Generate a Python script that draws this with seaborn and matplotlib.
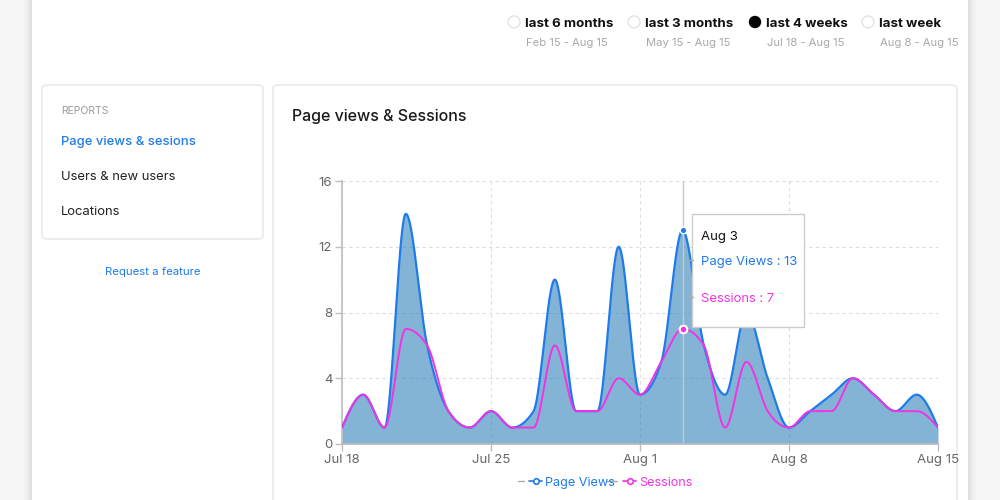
import numpy as np
import pandas as pd
import matplotlib
matplotlib.use("Agg")
import matplotlib.pyplot as plt
import matplotlib.patches as mpatches
import matplotlib.lines as mlines
import seaborn as sns

# ---------------- data ----------------
page_views = [1, 3, 1, 14, 6, 2, 1, 2, 1, 2, 10, 2, 2, 12, 3, 5, 13, 6, 3, 8, 4, 1, 2, 3, 4, 3, 2, 3, 1]
sessions = [1, 3, 1, 7, 6, 2, 1, 2, 1, 1, 6, 2, 2, 4, 3, 5, 7, 6, 1, 5, 2, 1, 2, 2, 4, 3, 2, 2, 1]
tick_days = [0, 7, 14, 21, 28]
tick_labels = ["Jul 18", "Jul 25", "Aug 1", "Aug 8", "Aug 15"]
y_ticks = [0, 4, 8, 12, 16]
active_index = 16  # Aug 3
active_label = "Aug 3"
ranges = ["last 6 months", "last 3 months", "last 4 weeks", "last week"]
range_dates = ["Feb 15 - Aug 15", "May 15 - Aug 15", "Jul 18 - Aug 15", "Aug 8 - Aug 15"]
selected_range = 2
menu_items = ["Page views & sesions", "Users & new users", "Locations"]

BLUE = "#1f7bea"
MAGENTA = "#f233e3"
FILL = "#1f77b4"
DY = 2  # text baseline correction in px


def monotone_curve(y, m=40):
    """d3 curveMonotoneX through integer-spaced points."""
    y = np.asarray(y, float)
    x = np.arange(len(y), dtype=float)
    n = len(y)
    h = np.diff(x)
    s = np.diff(y) / h
    t = np.zeros(n)
    for i in range(1, n - 1):
        s0, s1, h0, h1 = s[i - 1], s[i], h[i - 1], h[i]
        p = (s0 * h1 + s1 * h0) / (h0 + h1)
        t[i] = (np.sign(s0) + np.sign(s1)) * min(abs(s0), abs(s1), 0.5 * abs(p))
    t[0] = (3 * s[0] - t[1]) / 2
    t[-1] = (3 * s[-1] - t[-2]) / 2
    xs, ys = [], []
    for i in range(n - 1):
        u = np.linspace(0, 1, m, endpoint=(i == n - 2))
        h00 = 2 * u**3 - 3 * u**2 + 1
        h10 = u**3 - 2 * u**2 + u
        h01 = -2 * u**3 + 3 * u**2
        h11 = u**3 - u**2
        xs.append(x[i] + u * h[i])
        ys.append(h00 * y[i] + h10 * h[i] * t[i] + h01 * y[i + 1] + h11 * h[i] * t[i + 1])
    return np.concatenate(xs), np.concatenate(ys)


sns.set_theme(style="white")
plt.rcParams["font.family"] = ["Inter", "DejaVu Sans"]

fig = plt.figure(figsize=(10, 5), dpi=100)
fig.patch.set_facecolor("#f7f7f7")


def fx(x):
    return x / 1000.0


def fy(y):
    return 1 - y / 500.0


def ty(y):
    return fy(y + DY)


# page shadow + white card
for k, a in enumerate([0.015, 0.02, 0.025, 0.03]):
    off = 8 - 2 * k
    fig.add_artist(mpatches.Rectangle((fx(32 - off), 0), fx(936 + 2 * off), 1, transform=fig.transFigure,
                                      facecolor="#000000", alpha=a, edgecolor="none", zorder=0))
fig.add_artist(mpatches.Rectangle((fx(32), 0), fx(936), 1, transform=fig.transFigure,
                                  facecolor="white", edgecolor="none", zorder=0.5))

# left menu card
fig.add_artist(mpatches.FancyBboxPatch((fx(42), fy(239)), fx(221), 154 / 500, transform=fig.transFigure,
                                       boxstyle="round,pad=0,rounding_size=0.006", facecolor="white",
                                       edgecolor="#e6e6e6", lw=1, zorder=1))
fig.text(fx(61), ty(109), "REPORTS", fontsize=7.5, color="#9a9a9a", va="center", ha="left", zorder=2)
for i, item in enumerate(menu_items):
    fig.text(fx(61), ty(140 + 35 * i), item, fontsize=9.4, color=BLUE if i == 0 else "#222222",
             va="center", ha="left", zorder=2, fontweight="medium" if i == 0 else "normal")
fig.text(fx(153), ty(270), "Request a feature", fontsize=8.2, color=BLUE, va="center", ha="center", zorder=2)

# chart card
fig.add_artist(mpatches.FancyBboxPatch((fx(273), fy(510)), fx(684), 425 / 500, transform=fig.transFigure,
                                       boxstyle="round,pad=0,rounding_size=0.006", facecolor="white",
                                       edgecolor="#e6e6e6", lw=1, zorder=1))
fig.text(fx(292), ty(115), "Page views & Sessions", fontsize=11.5, color="#1a1a1a", va="center",
         ha="left", zorder=2, fontweight="medium")

# range selector
circle_x = [514, 634, 755, 868]
for i, (lab, dr) in enumerate(zip(ranges, range_dates)):
    cx = circle_x[i]
    if i == selected_range:
        fig.add_artist(mpatches.Ellipse((fx(cx), fy(22)), fx(11), 11 / 500, transform=fig.transFigure,
                                        facecolor="black", edgecolor="black", zorder=2))
    else:
        fig.add_artist(mpatches.Ellipse((fx(cx), fy(22)), fx(12), 12 / 500, transform=fig.transFigure,
                                        facecolor="white", edgecolor="#e3e3e3", lw=1, zorder=2))
    fig.text(fx(cx + 11), ty(22), lab, fontsize=9.6, fontweight="bold", color="#111111",
             va="center", ha="left", zorder=2)
    fig.text(fx(cx + 12), ty(41), dr, fontsize=8.1, color="#a8a8a8", va="center", ha="left", zorder=2)

# ---------------- chart ----------------
ax = fig.add_axes([fx(342), fy(444), fx(938 - 342), (444 - 181) / 500])
ax.set_facecolor("none")
ax.set_zorder(3)

xd, pv_d = monotone_curve(page_views)
_, s_d = monotone_curve(sessions)

ax.fill_between(xd, 0, pv_d, color=FILL, alpha=0.55, lw=0, zorder=1)
ax.axvline(active_index, color="#c8c8c8", lw=1, zorder=1.5)
sns.lineplot(x=xd, y=pv_d, ax=ax, color=BLUE, lw=1.6, zorder=3, estimator=None, sort=False)
sns.lineplot(x=xd, y=s_d, ax=ax, color=MAGENTA, lw=1.4, zorder=4, estimator=None, sort=False)

ax.scatter([active_index], [page_views[active_index]], s=22, color=BLUE, edgecolor="white", lw=1, zorder=6)
ax.scatter([active_index], [sessions[active_index]], s=30, color=MAGENTA, edgecolor="white", lw=1.5, zorder=6)

ax.set_xlim(0, len(page_views) - 1)
ax.set_ylim(0, 16)
ax.set_xticks(tick_days)
ax.set_xticklabels(tick_labels)
ax.set_yticks(y_ticks)
ax.set_yticklabels([str(v) for v in y_ticks])
ax.grid(True, color="#dddddd", lw=0.8, linestyle=(0, (3, 3)))
ax.set_axisbelow(True)
for side in ["top", "right"]:
    ax.spines[side].set_visible(False)
for side in ["left", "bottom"]:
    ax.spines[side].set_color("#bdbdbd")
    ax.spines[side].set_linewidth(1.2)
ax.tick_params(axis="both", which="both", length=5, width=1, color="#bdbdbd", labelcolor="#666666",
               labelsize=9.5, pad=2, left=True, bottom=True)

# tooltip
tip = mpatches.Rectangle((fx(692), fy(327)), fx(112), (327 - 214) / 500, transform=fig.transFigure,
                         facecolor="white", edgecolor="#cccccc", lw=1, zorder=10)
fig.add_artist(tip)
for yy in [260, 297]:
    fig.add_artist(mlines.Line2D([fx(687), fx(693)], [fy(yy), fy(yy)], transform=fig.transFigure,
                                 color="#aaaaaa", lw=1, zorder=11))
fig.text(fx(701), ty(235), active_label, fontsize=9.5, color="#111111", va="center", ha="left", zorder=11)
fig.text(fx(701), ty(260), f"Page Views : {page_views[active_index]}", fontsize=9.4, color=BLUE,
         va="center", ha="left", zorder=11)
fig.text(fx(701), ty(297), f"Sessions : {sessions[active_index]}", fontsize=9.4, color=MAGENTA,
         va="center", ha="left", zorder=11)

# legend
ly = fy(481)
fig.add_artist(mlines.Line2D([fx(518), fx(524)], [ly, ly], transform=fig.transFigure, color="#aaaaaa", lw=1, zorder=5))
fig.add_artist(mlines.Line2D([fx(529), fx(542)], [ly, ly], transform=fig.transFigure, color=BLUE, lw=1.2, zorder=5))
fig.add_artist(mlines.Line2D([fx(535.5)], [ly], transform=fig.transFigure, color=BLUE, lw=0, marker="o",
                             markersize=4, markerfacecolor="white", markeredgewidth=1.2, zorder=6))
fig.text(fx(545), fy(481 + DY), "Page Views", fontsize=9.1, color=BLUE, va="center", ha="left", zorder=5)
fig.add_artist(mlines.Line2D([fx(607), fx(617)], [ly, ly], transform=fig.transFigure, color="#aaaaaa", lw=1, zorder=5))
fig.add_artist(mlines.Line2D([fx(623), fx(636)], [ly, ly], transform=fig.transFigure, color=MAGENTA, lw=1.2, zorder=5))
fig.add_artist(mlines.Line2D([fx(629.5)], [ly], transform=fig.transFigure, color=MAGENTA, lw=0, marker="o",
                             markersize=4, markerfacecolor="white", markeredgewidth=1.2, zorder=6))
fig.text(fx(639), fy(481 + DY), "Sessions", fontsize=9.1, color=MAGENTA, va="center", ha="left", zorder=5)

fig.savefig("out.png", dpi=100, facecolor=fig.get_facecolor())
